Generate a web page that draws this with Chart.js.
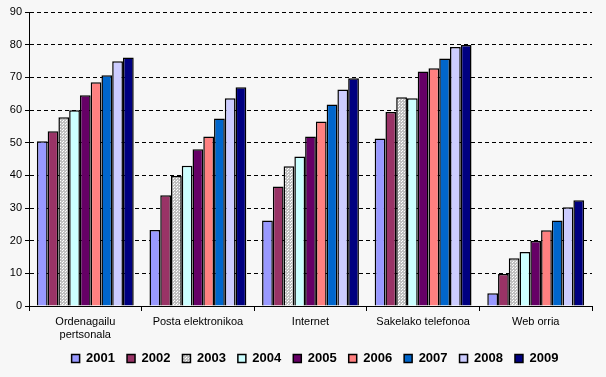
<!DOCTYPE html>
<html>
<head>
<meta charset="utf-8">
<script src="https://cdn.jsdelivr.net/npm/chart.js@4.4.0/dist/chart.umd.min.js"></script>
<style>
body { margin: 0; background: #f7f7f7; }
#wrap { width: 606px; height: 377px; }
</style>
</head>
<body>
<div id="wrap"><canvas id="bars"></canvas></div>
<script>
// categories and values
const categories = [['Ordenagailu', 'pertsonala'], 'Posta elektronikoa', 'Internet', 'Sakelako telefonoa', 'Web orria'];
const years = ['2001', '2002', '2003', '2004', '2005', '2006', '2007', '2008', '2009'];
const y2001 = [50.4, 23.3, 26.2, 51.3, 3.9];
const y2002 = [53.5, 33.9, 36.6, 59.4, 9.8];
const y2003 = [57.8, 39.8, 42.8, 63.9, 14.6];
const y2004 = [59.9, 42.9, 45.8, 63.6, 16.5];
const y2005 = [64.5, 48.0, 51.9, 71.8, 19.9];
const y2006 = [68.5, 51.9, 56.5, 72.8, 23.2];
const y2007 = [70.6, 57.4, 61.7, 75.8, 26.2];
const y2008 = [74.9, 63.6, 66.3, 79.3, 30.2];
const y2009 = [76.1, 67.0, 69.7, 79.9, 32.4];
const yTicks = [0, 10, 20, 30, 40, 50, 60, 70, 80, 90];

// dotted grey fill used by 2003
function dotted() {
    const c = document.createElement('canvas');
    c.width = 3; c.height = 3;
    const g = c.getContext('2d');
    g.fillStyle = '#c0c0c0';
    g.fillRect(0, 0, 3, 3);
    g.fillStyle = '#ffffff';
    g.fillRect(0, 0, 1, 1);
    g.fillRect(2, 1, 1, 1);
    return g.createPattern(c, 'repeat');
}

const colors = ['#9999ff', '#993366', dotted(), '#ccffff', '#660066', '#ff8080', '#0066cc', '#ccccff', '#000080'];
const series = [y2001, y2002, y2003, y2004, y2005, y2006, y2007, y2008, y2009];

const bg = {
    id: 'bg',
    beforeDraw(chart) {
        const c = chart.ctx;
        c.save();
        c.fillStyle = '#f7f7f7';
        c.fillRect(0, 0, chart.width, chart.height);
        c.restore();
    }
};

// legend sits a bit right of the canvas centre in the original
const legendShift = {
    id: 'legendShift',
    afterLayout(chart) {
        chart.legend.left += 19;
        chart.legend.right += 19;
    }
};

Chart.defaults.font.family = "'Liberation Sans', Arial, sans-serif";
Chart.defaults.color = '#000000';

var ctx = document.getElementById('bars').getContext('2d');
var chart = new Chart(ctx, {
    type: 'bar',
    data: {
        labels: categories,
        datasets: years.map((y, i) => ({
            label: y,
            data: series[i],
            backgroundColor: colors[i],
            borderColor: '#000000',
            borderWidth: 1.5,
            borderSkipped: 'bottom',
            categoryPercentage: 0.86,
            barPercentage: 1
        }))
    },
    options: {
        responsive: true,
        maintainAspectRatio: false,
        animation: false,
        layout: { padding: { top: 12, right: 14, left: 0, bottom: 2 } },
        plugins: {
            tooltip: { enabled: false },
            legend: {
                position: 'bottom',
                labels: {
                    boxWidth: 8,
                    boxHeight: 8,
                    padding: 12,
                    font: { size: 13, weight: 'bold' }
                }
            }
        },
        scales: {
            x: {
                border: { color: '#000000', width: 1 },
                grid: { offset: true, drawOnChartArea: false, tickLength: 5, color: '#000000' },
                ticks: { font: { size: 11 }, padding: 4, maxRotation: 0, autoSkip: false },
                afterFit(scale) { scale.height = 34; }
            },
            y: {
                min: 0,
                max: 90,
                afterBuildTicks(scale) { scale.ticks = yTicks.map(v => ({ value: v })); },
                // in v4 border.dash is the dash of the grid lines
                border: { color: '#000000', width: 1, dash: [4, 3] },
                grid: {
                    color: (c) => c.tick && c.tick.value === 0 ? 'rgba(0,0,0,0)' : '#000000',
                    tickLength: 4,
                    tickColor: '#000000',
                    tickBorderDash: []
                },
                ticks: { font: { size: 11 }, padding: 3 },
                afterFit(scale) { scale.width = 29; }
            }
        }
    },
    plugins: [bg, legendShift]
});
</script>
</body>
</html>
